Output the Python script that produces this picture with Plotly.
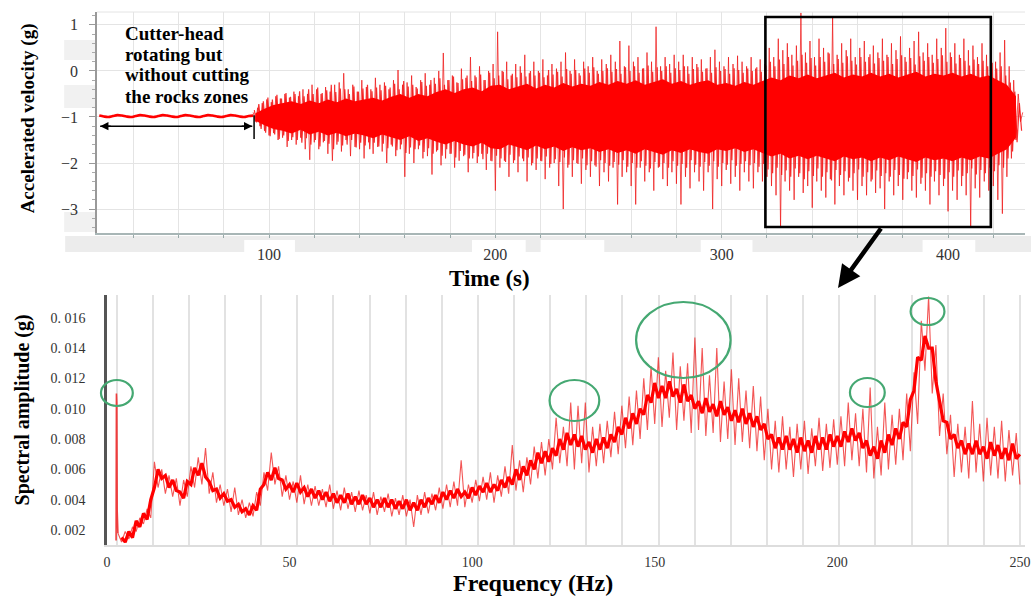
import numpy as np
import plotly.graph_objects as go

# ---------------- data ----------------
# top: idle section (cutter-head rotating, no cutting)
flat_t = list(range(25, 94, 2))
flat_v = [-0.97, -0.99, -1.0, -0.98, -0.96, -0.97, -0.99, -1.0, -0.98, -0.96,
          -0.97, -0.99, -1.0, -0.98, -0.96, -0.97, -0.99, -1.0, -0.98, -0.96,
          -0.97, -0.99, -1.0, -0.98, -0.96, -0.97, -0.99, -1.0, -0.98, -0.96,
          -0.97, -0.99, -1.0, -0.98, -0.97]

# top: dense core of the cutting signal, edges every 4 s from t = 94 s
core_t0, core_dt = 94, 4
core_hi = [-0.92, -0.82, -0.74, -0.7, -0.66, -0.72, -0.64, -0.7, -0.62, -0.68,
           -0.6, -0.66, -0.62, -0.58, -0.64, -0.56, -0.5, -0.58, -0.5, -0.55,
           -0.46, -0.4, -0.48, -0.4, -0.36, -0.44, -0.32, -0.3, -0.4, -0.34,
           -0.28, -0.38, -0.3, -0.36, -0.26, -0.34, -0.28, -0.32, -0.24, -0.3,
           -0.22, -0.28, -0.2, -0.3, -0.24, -0.18, -0.28, -0.22, -0.3, -0.24,
           -0.2, -0.3, -0.26, -0.32, -0.24, -0.3, -0.22, -0.14, -0.2, -0.1,
           -0.16, -0.08, -0.16, -0.1, -0.04, -0.14, -0.08, -0.12, -0.04, -0.12,
           -0.06, -0.14, -0.08, -0.02, -0.12, -0.06, -0.1, -0.04, -0.12, -0.06,
           -0.14, -0.1, -0.2, -0.3, -0.55]
core_lo = [-1.08, -1.18, -1.26, -1.3, -1.36, -1.28, -1.38, -1.32, -1.4, -1.34,
           -1.42, -1.36, -1.4, -1.46, -1.38, -1.44, -1.5, -1.42, -1.52, -1.46,
           -1.54, -1.6, -1.52, -1.6, -1.64, -1.56, -1.68, -1.7, -1.6, -1.66,
           -1.72, -1.62, -1.7, -1.64, -1.74, -1.66, -1.72, -1.68, -1.76, -1.7,
           -1.78, -1.72, -1.8, -1.7, -1.76, -1.82, -1.72, -1.78, -1.7, -1.76,
           -1.8, -1.7, -1.74, -1.68, -1.76, -1.7, -1.78, -1.86, -1.8, -1.9,
           -1.84, -1.92, -1.84, -1.9, -1.96, -1.86, -1.92, -1.88, -1.96, -1.88,
           -1.94, -1.86, -1.92, -1.98, -1.88, -1.94, -1.9, -1.96, -1.88, -1.94,
           -1.86, -1.9, -1.8, -1.7, -1.45]

# top: fringe strokes just outside the core, up at t = 93.5, 95.5, ... ; down at t = 94.5, 96.5, ...
fringe_up = [-0.85, -0.72, -0.66, -0.58, -0.62, -0.52, -0.6, -0.48, -0.56, -0.5,
             -0.44, -0.55, -0.4, -0.5, -0.36, -0.48, -0.42, -0.3, -0.46, -0.38,
             -0.4, -0.5, -0.34, -0.45, -0.38, -0.3, -0.44, -0.36, -0.42, -0.32,
             -0.36, -0.28, -0.4, -0.22, -0.34, -0.3, -0.38, -0.24, -0.32, -0.2,
             -0.28, -0.16, -0.3, -0.2, -0.12, -0.26, -0.18, -0.1, -0.22, -0.14,
             -0.08, -0.2, -0.04, -0.16, -0.1, -0.02, -0.18, -0.06, -0.14, -0.04,
             -0.12, 0.0, -0.1, -0.04, -0.14, 0.02, -0.08, -0.02, -0.12, 0.04,
             -0.06, 0.02, -0.1, 0.05, -0.04, 0.08, -0.06, 0.0, 0.06, -0.02,
             0.04, -0.06, 0.08, 0.0, 0.1, -0.04, 0.06, 0.12, -0.02, 0.08,
             0.0, 0.1, -0.04, 0.06, 0.02, 0.1, -0.06, 0.04, 0.08, -0.02,
             0.06, -0.04, 0.08, 0.0, 0.04, -0.06, 0.06, 0.02, -0.04, 0.05,
             0.0, 0.08, -0.02, 0.12, 0.2, 0.1, 0.25, 0.15, 0.3, 0.12,
             0.22, 0.35, 0.18, 0.28, 0.12, 0.3, 0.2, 0.38, 0.15, 0.26,
             0.18, 0.32, 0.22, 0.14, 0.3, 0.2, 0.36, 0.16, 0.28, 0.22,
             0.3, 0.15, 0.26, 0.34, 0.2, 0.28, 0.14, 0.32, 0.22, 0.3,
             0.18, 0.26, 0.34, 0.2, 0.3, 0.16, 0.28, 0.22, 0.12, 0.25,
             0.15, 0.22, 0.1, 0.18, 0.05, 0.1, -0.1, -0.25, -0.45, -0.7]
fringe_dn = [-1.12, -1.26, -1.34, -1.42, -1.38, -1.48, -1.4, -1.52, -1.44, -1.5,
             -1.56, -1.46, -1.6, -1.5, -1.64, -1.52, -1.58, -1.7, -1.54, -1.62,
             -1.6, -1.5, -1.66, -1.56, -1.62, -1.7, -1.56, -1.64, -1.58, -1.68,
             -1.64, -1.72, -1.6, -1.78, -1.66, -1.7, -1.62, -1.76, -1.68, -1.8,
             -1.72, -1.84, -1.7, -1.8, -1.88, -1.74, -1.82, -1.9, -1.78, -1.86,
             -1.92, -1.8, -1.96, -1.84, -1.9, -1.98, -1.82, -1.94, -1.86, -1.96,
             -1.88, -2.0, -1.9, -1.96, -1.86, -2.02, -1.92, -1.98, -1.88, -2.04,
             -1.94, -2.02, -1.9, -2.05, -1.96, -2.08, -1.94, -2.0, -2.06, -1.98,
             -2.04, -1.94, -2.08, -2.0, -2.1, -1.96, -2.06, -2.12, -1.98, -2.08,
             -2.0, -2.1, -1.96, -2.06, -2.02, -2.1, -1.94, -2.04, -2.08, -1.98,
             -2.06, -1.96, -2.08, -2.0, -2.04, -1.94, -2.06, -2.02, -1.96, -2.05,
             -2.0, -2.08, -2.02, -2.14, -2.22, -2.1, -2.26, -2.16, -2.3, -2.12,
             -2.22, -2.35, -2.18, -2.28, -2.12, -2.3, -2.2, -2.38, -2.15, -2.26,
             -2.18, -2.32, -2.22, -2.14, -2.3, -2.2, -2.36, -2.16, -2.28, -2.22,
             -2.3, -2.15, -2.26, -2.34, -2.2, -2.28, -2.14, -2.32, -2.22, -2.3,
             -2.18, -2.26, -2.34, -2.2, -2.3, -2.16, -2.28, -2.22, -2.12, -2.25,
             -2.15, -2.22, -2.1, -2.18, -2.05, -2.1, -1.9, -1.75, -1.55, -1.3]
fringe_t0 = 93.5

# top: spike tips, upper at t = 93, 95, ... 433 ; lower at t = 94, 96, ... 432
spike_up = [-0.9, -0.8, -0.7, -0.62, -0.68, -0.55, -0.6, -0.5, -0.58, -0.45, -0.55, -0.4, -0.5, -0.3,
            -0.4, -0.5, -0.35, -0.45, -0.3, -0.25, -0.05, -0.4, -0.3, -0.45, -0.2, -0.35, -0.4, -0.15, -0.3, -0.25, -0.4, -0.2, 0.02, -0.3,
            -0.25, -0.1, -0.35, -0.2, -0.05, -0.3, -0.15, 0.0, 0.39, -0.2, -0.1, -0.25, 0.05, -0.15, 0.3, -0.1, 0.1, -0.2, 0.0, 0.15,
            0.85, 0.0, 0.2, -0.1, 0.15, 0.1, 0.35, -0.05, 0.2, 0.0, 0.25, -0.1, 0.15, 0.05, 0.2, 0.4, 0.0, 0.25, -0.05, 0.2,
            0.1, 0.3, 0.0, 0.25, 0.15, 0.35, 0.2, 0.65, 0.1, 0.55, 0.2, 0.3, 0.05, 0.4, 0.2, 0.96, 0.1, 0.3, 0.15, 0.35,
            0.2, 0.35, 0.1, 0.3, 0.15, 0.25, 0.05, 0.3, 0.46, 0.2, 0.1, 0.3, 0.15, 0.33, 0.2, 0.1, 0.3, 0.05, 0.25, 0.15,
            0.5, 0.3, 0.7, 0.45, 0.6, 0.35, 0.55, 1.26, 0.4, 0.65, 0.3, 0.7, 0.5, 0.4, 1.15, 0.35, 0.6, 0.45, 0.7, 0.3,
            0.5, 0.65, 0.3, 0.55, 0.4, 0.7, 0.35, 0.6, 0.45, 0.75, 0.3, 0.5, 0.65, 0.85, 0.4, 0.6, 0.35, 0.7, 0.5, 0.93,
            0.4, 0.6, 0.35, 0.7, 0.45, 0.55, 0.3, 0.6, 0.35, 0.5, 0.2, 0.4, 0.67, 0.1, -0.2, -0.5, -0.9]
spike_dn = [-1.1, -1.2, -1.3, -1.4, -1.35, -1.5, -1.45, -1.65, -1.5, -1.6, -1.45, -1.7, -1.93, -1.55,
            -1.7, -1.55, -1.8, -1.95, -1.6, -1.75, -1.5, -1.85, -1.65, -1.7, -1.9, -1.55, -1.8, -1.65, -1.75, -2.0, -1.6, -1.85, -1.7, -2.3,
            -1.8, -2.0, -1.7, -1.9, -1.85, -2.25, -1.75, -2.05, -1.9, -1.8, -2.1, -1.95, -1.85, -2.2, -1.9, -2.0, -1.8, -2.15, -1.95, -2.6,
            -2.1, -1.95, -2.3, -2.0, -2.2, -1.9, -2.4, -2.05, -2.15, -1.95, -2.35, -2.1, -2.0, -2.5, -3.0, -2.1, -2.3, -2.0, -2.45, -2.15,
            -2.3, -2.05, -2.5, -2.2, -2.4, -2.1, -2.9, -2.3, -2.2, -2.5, -2.9, -2.1, -2.4, -2.2, -2.6, -2.1, -2.35, -2.5, -2.2, -2.45,
            -2.9, -2.3, -2.55, -2.2, -2.4, -2.6, -2.2, -3.0, -2.35, -2.5, -2.15, -2.45, -2.3, -2.6, -2.2, -2.4, -2.55, -2.2, -2.4, -2.3,
            -2.5, -2.7, -3.4, -2.4, -2.6, -2.8, -2.3, -2.65, -2.5, -2.97, -2.4, -2.6, -2.75, -2.35, -2.9, -2.5, -2.7, -2.4, -2.6, -2.8,
            -2.5, -2.7, -2.4, -2.65, -2.55, -3.0, -2.4, -2.7, -2.5, -2.8, -2.35, -2.6, -2.75, -2.45, -2.6, -2.9, -2.4, -2.7, -2.5, -3.05,
            -2.6, -2.8, -2.5, -2.7, -3.4, -2.55, -2.75, -2.4, -2.6, -2.5, -2.8, -3.1, -2.3, -1.9, -1.5, -1.1]
spike_t0 = 93

# bottom: low-frequency line at ~2.6 Hz
dc_f = [2.5, 2.6, 2.7, 2.8, 3.0]
dc_v = [0.0013, 0.0110, 0.0104, 0.0033, 0.0018]

# bottom: dense core of the spectrum, one value per Hz from 4 Hz (units of 1e-4 g)
spec_core_f0 = 4
spec_core_e4 = [15, 12, 19, 15, 26, 22, 31, 27, 40, 48,
                60, 54, 56, 48, 53, 46, 45, 41, 52, 50,
                61, 56, 64, 55, 52, 46, 47, 41, 44, 39,
                40, 35, 37, 32, 34, 30, 36, 33, 47, 50,
                58, 53, 61, 54, 53, 47, 50, 45, 51, 45,
                48, 42, 47, 41, 46, 40, 45, 39, 44, 38,
                43, 38, 44, 37, 42, 37, 43, 37, 41, 35,
                40, 35, 41, 35, 40, 34, 39, 34, 40, 33,
                38, 33, 40, 35, 41, 37, 43, 38, 45, 40,
                46, 41, 47, 42, 45, 41, 48, 43, 49, 45,
                51, 45, 50, 46, 53, 48, 55, 50, 60, 53,
                62, 56, 66, 60, 71, 64, 72, 65, 74, 69,
                80, 73, 84, 76, 83, 75, 82, 73, 78, 71,
                80, 73, 81, 74, 83, 78, 88, 83, 94, 87,
                97, 90, 100, 96, 109, 104, 117, 107, 115, 107,
                118, 108, 113, 104, 116, 105, 109, 100, 105, 97,
                107, 98, 103, 95, 105, 96, 101, 92, 99, 91,
                100, 90, 97, 88, 95, 86, 90, 80, 83, 74,
                81, 73, 82, 73, 80, 71, 81, 72, 79, 71,
                82, 73, 81, 73, 83, 75, 82, 75, 85, 78,
                87, 79, 84, 74, 79, 69, 75, 67, 79, 71,
                83, 76, 87, 80, 91, 88, 106, 112, 134, 132,
                148, 140, 140, 118, 105, 92, 91, 80, 83, 74,
                79, 70, 77, 70, 79, 70, 75, 67, 78, 69,
                76, 67, 74, 66, 77, 67, 70]

# bottom: spectrum spike tips, highs at f = 3, 5, ... 249 ; lows at f = 4, 6, ... 250
spec_hi = [0.0018, 0.0019, 0.0022, 0.0028, 0.0034, 0.0065, 0.0060, 0.0056, 0.0054, 0.0053,
           0.0062, 0.0068, 0.0074, 0.0058, 0.0050, 0.0047, 0.0048, 0.0040, 0.0038, 0.0045,
           0.0058, 0.0071, 0.0062, 0.0056, 0.0052, 0.0056, 0.0050, 0.0049, 0.0047, 0.0050,
           0.0046, 0.0048, 0.0045, 0.0046, 0.0043, 0.0045, 0.0042, 0.0044, 0.0041, 0.0043,
           0.0040, 0.0043, 0.0045, 0.0044, 0.0048, 0.0050, 0.0052, 0.0066, 0.0050, 0.0053,
           0.0055, 0.0058, 0.0056, 0.0062, 0.0076, 0.0066, 0.0068, 0.0075, 0.0078, 0.0080,
           0.0094, 0.0088, 0.0104, 0.0102, 0.0104, 0.0088, 0.0090, 0.0092, 0.0098, 0.0102,
           0.0108, 0.0112, 0.0120, 0.0128, 0.0134, 0.0125, 0.0137, 0.0128, 0.0130, 0.0147,
           0.0140, 0.0122, 0.0140, 0.0118, 0.0126, 0.0120, 0.0112, 0.0115, 0.0108, 0.0100,
           0.0092, 0.0095, 0.0088, 0.0090, 0.0092, 0.0087, 0.0094, 0.0090, 0.0093, 0.0095,
           0.0104, 0.0097, 0.0100, 0.0114, 0.0088, 0.0104, 0.0096, 0.0100, 0.0110, 0.0124,
           0.0158, 0.0174, 0.0142, 0.0110, 0.0096, 0.0090, 0.0088, 0.0105, 0.0090, 0.0094,
           0.0088, 0.0092, 0.0086, 0.0084]
spec_lo = [0.0012, 0.0014, 0.0019, 0.0024, 0.0028, 0.0048, 0.0044, 0.0042, 0.0036, 0.0042,
           0.0048, 0.0050, 0.0044, 0.0038, 0.0036, 0.0032, 0.0030, 0.0028, 0.0029, 0.0036,
           0.0046, 0.0050, 0.0042, 0.0040, 0.0038, 0.0037, 0.0036, 0.0036, 0.0035, 0.0034,
           0.0033, 0.0034, 0.0032, 0.0033, 0.0031, 0.0030, 0.0032, 0.0029, 0.0030, 0.0029,
           0.0022, 0.0030, 0.0031, 0.0033, 0.0034, 0.0035, 0.0036, 0.0035, 0.0038, 0.0039,
           0.0040, 0.0038, 0.0042, 0.0044, 0.0046, 0.0045, 0.0050, 0.0054, 0.0056, 0.0060,
           0.0064, 0.0062, 0.0060, 0.0064, 0.0058, 0.0062, 0.0064, 0.0068, 0.0070, 0.0074,
           0.0076, 0.0080, 0.0086, 0.0090, 0.0088, 0.0094, 0.0086, 0.0092, 0.0084, 0.0086,
           0.0082, 0.0084, 0.0078, 0.0080, 0.0076, 0.0078, 0.0074, 0.0072, 0.0066, 0.0060,
           0.0058, 0.0060, 0.0055, 0.0060, 0.0057, 0.0062, 0.0059, 0.0061, 0.0063, 0.0062,
           0.0066, 0.0062, 0.0058, 0.0054, 0.0056, 0.0060, 0.0063, 0.0066, 0.0072, 0.0090,
           0.0125, 0.0110, 0.0082, 0.0070, 0.0055, 0.0058, 0.0054, 0.0058, 0.0052, 0.0056,
           0.0054, 0.0052, 0.0056, 0.0050]
spec_f0 = 3

top_ticks = [100, 200, 300, 400]
amp_ticks = [0.002, 0.004, 0.006, 0.008, 0.010, 0.012, 0.014, 0.016]
amp_text = ["0.\u00a0002", "0.\u00a0004", "0.\u00a0006", "0.\u00a0008",
            "0.\u00a0010", "0.\u00a0012", "0.\u00a0014", "0.\u00a0016"]
freq_ticks = [0, 50, 100, 150, 200, 250]

# ---------------- layout helpers (reference pixel coords) ----------------
PW, PH = 1036, 598          # browser window (page margin is removed below)
L, R, T, B = 97, 6, 12, 53  # plot area in window pixels
def px(x):
    return (x - L) / (PW - L - R)
def py(y):
    return (PH - B - y) / (PH - T - B)

SERIF = "Liberation Serif, Times New Roman, serif"
RED = "#ff0000"
SPIKE = "rgba(238,20,20,0.72)"
FRINGE = "rgba(245,10,10,0.85)"
GREEN = "#45a872"

def interleave(a, b):
    out = np.empty(len(a) + len(b))
    out[0::2] = a
    out[1::2] = b
    return out

sig_v = interleave(spike_up, spike_dn)
sig_t = spike_t0 + np.arange(len(sig_v))
fr_v = interleave(fringe_up, fringe_dn)
fr_t = fringe_t0 + np.arange(len(fr_v))
core_t = core_t0 + core_dt * np.arange(len(core_hi))

sp_v = interleave(spec_hi, spec_lo)
sp_f = spec_f0 + np.arange(len(sp_v))
core_f = spec_core_f0 + np.arange(len(spec_core_e4))
core_amp = np.array(spec_core_e4) * 1e-4

fig = go.Figure()

# top traces
fig.add_trace(go.Scatter(x=sig_t, y=sig_v, mode="lines", line=dict(color=SPIKE, width=1),
                         xaxis="x", yaxis="y", hoverinfo="skip"))
fig.add_trace(go.Scatter(x=fr_t, y=fr_v, mode="lines", line=dict(color=FRINGE, width=1.2),
                         xaxis="x", yaxis="y", hoverinfo="skip"))
fig.add_trace(go.Scatter(x=core_t, y=core_hi, mode="lines", line=dict(color=RED, width=0),
                         xaxis="x", yaxis="y", hoverinfo="skip"))
fig.add_trace(go.Scatter(x=core_t, y=core_lo, mode="lines", line=dict(color=RED, width=0),
                         fill="tonexty", fillcolor=RED, xaxis="x", yaxis="y", hoverinfo="skip"))
fig.add_trace(go.Scatter(x=flat_t, y=flat_v, mode="lines", line=dict(color=RED, width=2.6, shape="spline"),
                         xaxis="x", yaxis="y", hoverinfo="skip"))

# bottom traces
fig.add_trace(go.Scatter(x=sp_f, y=sp_v, mode="lines", line=dict(color=SPIKE, width=1.1),
                         xaxis="x2", yaxis="y2", hoverinfo="skip"))
fig.add_trace(go.Scatter(x=core_f, y=core_amp, mode="lines", line=dict(color=RED, width=3.2),
                         xaxis="x2", yaxis="y2", hoverinfo="skip"))
fig.add_trace(go.Scatter(x=dc_f, y=dc_v, mode="lines", line=dict(color="rgba(240,30,30,0.85)", width=1.6),
                         xaxis="x2", yaxis="y2", hoverinfo="skip"))

tickfont_top = dict(family=SERIF, size=16, color="#333")
tickfont_bot = dict(family=SERIF, size=14, color="#333")

fig.update_layout(
    width=PW, height=PH,
    margin=dict(l=L, r=R, t=T, b=B),
    paper_bgcolor="white", plot_bgcolor="white",
    showlegend=False,
    xaxis=dict(domain=[0, 1], range=[24, 434], anchor="y",
               tickvals=top_ticks, tickfont=tickfont_top, ticks="outside", ticklen=3,
               tickcolor="#9aa", ticklabelstandoff=3,
               showgrid=True, gridcolor="#e4e4e4", gridwidth=1,
               minor=dict(tick0=0, dtick=20, showgrid=True, gridcolor="#e4e4e4", gridwidth=1,
                          ticks="outside", ticklen=3, tickcolor="#9aa"),
               showline=True, linecolor="#a8b6b6", linewidth=2, zeroline=False),
    yaxis=dict(domain=[py(233), py(12)], range=[-3.52, 1.28], anchor="x",
               tickvals=[-3, -2, -1, 0, 1], tickfont=tickfont_top,
               ticks="outside", ticklen=6, tickcolor="#999", ticklabelstandoff=8,
               minor=dict(dtick=0.2, ticks="outside", ticklen=3, tickcolor="#aaa", showgrid=False),
               showgrid=True, gridcolor="#e4e4e4",
               showline=True, linecolor="#999", linewidth=1.5, zeroline=False),
    xaxis2=dict(domain=[px(107), 1], range=[0, 251.4], anchor="y2",
                tickvals=freq_ticks, tickfont=tickfont_bot, ticks="", ticklabelstandoff=3,
                ticklabeloverflow="allow",
                showgrid=False,
                minor=dict(tick0=12.53, dtick=9.895, showgrid=True, gridcolor="#e2e2e2", gridwidth=1.6),
                showline=True, linecolor="#dddddd", linewidth=1.5, zeroline=False),
    yaxis2=dict(domain=[0, py(295)], range=[0.00101, 0.0175], anchor="x2",
                tickvals=amp_ticks, ticktext=amp_text, tickfont=tickfont_bot,
                ticks="", ticklabelstandoff=16, showgrid=False,
                showline=True, linecolor="#555", linewidth=2.5, zeroline=False),
)

shapes = []
shapes.append(dict(type="rect", xref="paper", yref="paper", x0=px(65), x1=px(1036), y0=py(252), y1=py(236),
                   fillcolor="#ececec", line=dict(width=0), layer="below"))
for a, b in [(245, 296), (474, 528), (543, 607), (704, 756), (927, 980)]:
    shapes.append(dict(type="rect", xref="paper", yref="paper", x0=px(a), x1=px(b), y0=py(268), y1=py(240),
                       fillcolor="white", line=dict(width=0), layer="below"))
for a, b in [(40, 60), (85, 108), (212, 232)]:
    shapes.append(dict(type="rect", xref="paper", yref="paper", x0=px(64), x1=px(96), y0=py(b), y1=py(a),
                       fillcolor="#f1f1f1", line=dict(width=0), layer="below"))
shapes.append(dict(type="line", xref="paper", yref="paper", x0=0, x1=1, y0=1, y1=1,
                   line=dict(color="#e4e4e4", width=1)))
shapes.append(dict(type="line", xref="x", yref="y", x0=25.4, x1=92.6, y0=-1.2, y1=-1.2,
                   line=dict(color="black", width=1.5)))
shapes.append(dict(type="line", xref="x", yref="y", x0=93.4, x1=93.4, y0=-0.96, y1=-1.48,
                   line=dict(color="black", width=1.5)))
shapes.append(dict(type="rect", xref="x", yref="y", x0=319.3, x1=418.9, y0=-3.39, y1=1.17,
                   line=dict(color="black", width=2.6)))
for x0, x1, y0, y1 in [(101, 133, 380, 406), (552, 602, 380, 421), (639, 734, 302, 378),
                       (854, 889, 378, 407), (915, 949, 298, 325)]:
    shapes.append(dict(type="circle", xref="paper", yref="paper", x0=px(x0), x1=px(x1),
                       y0=py(y1), y1=py(y0), line=dict(color=GREEN, width=2.2)))
fig.update_layout(shapes=shapes)

ann = []
for txt, yc in [("Cutter-head", 33), ("rotating but", 54), ("without cutting", 74.5), ("the rocks zones", 96)]:
    ann.append(dict(text="<b>%s</b>" % txt, xref="paper", yref="paper", x=px(123), y=py(yc),
                    xanchor="left", yanchor="middle", showarrow=False,
                    font=dict(family=SERIF, size=19, color="black")))
for head, tail in ((25.4, 12), (92.6, -12)):
    ann.append(dict(text="", xref="x", yref="y", x=head, y=-1.2, ax=tail, ay=0,
                    showarrow=True, arrowhead=2, arrowsize=1.1,
                    arrowwidth=1.5, arrowcolor="black"))
ann.append(dict(text="", xref="paper", yref="paper", x=px(842), y=py(288), ax=44, ay=-61,
                showarrow=True, arrowhead=2, arrowsize=1.0, arrowwidth=4.5, arrowcolor="black"))
ann.append(dict(text="<b>Accelerated velocity (g)</b>", xref="paper", yref="paper",
                x=px(28), y=py(118), textangle=-90, showarrow=False, xanchor="center", yanchor="middle",
                font=dict(family=SERIF, size=19, color="black")))
ann.append(dict(text="<b>Time (s)</b>", xref="paper", yref="paper", x=px(492), y=py(278),
                showarrow=False, xanchor="center", yanchor="middle",
                font=dict(family=SERIF, size=23, color="black")))
ann.append(dict(text="<b>Spectral amplitude (g)</b>", xref="paper", yref="paper",
                x=px(22), y=py(410), textangle=-90, showarrow=False, xanchor="center", yanchor="middle",
                font=dict(family=SERIF, size=20, color="black")))
ann.append(dict(text="<b>Frequency (Hz)</b>", xref="paper", yref="paper", x=px(535), y=py(583),
                showarrow=False, xanchor="center", yanchor="middle",
                font=dict(family=SERIF, size=24, color="black")))
fig.update_layout(annotations=ann)

fig.write_html("out.html", config={"displayModeBar": False},
               post_script="document.body.style.margin='0px';document.body.style.overflow='hidden';")
